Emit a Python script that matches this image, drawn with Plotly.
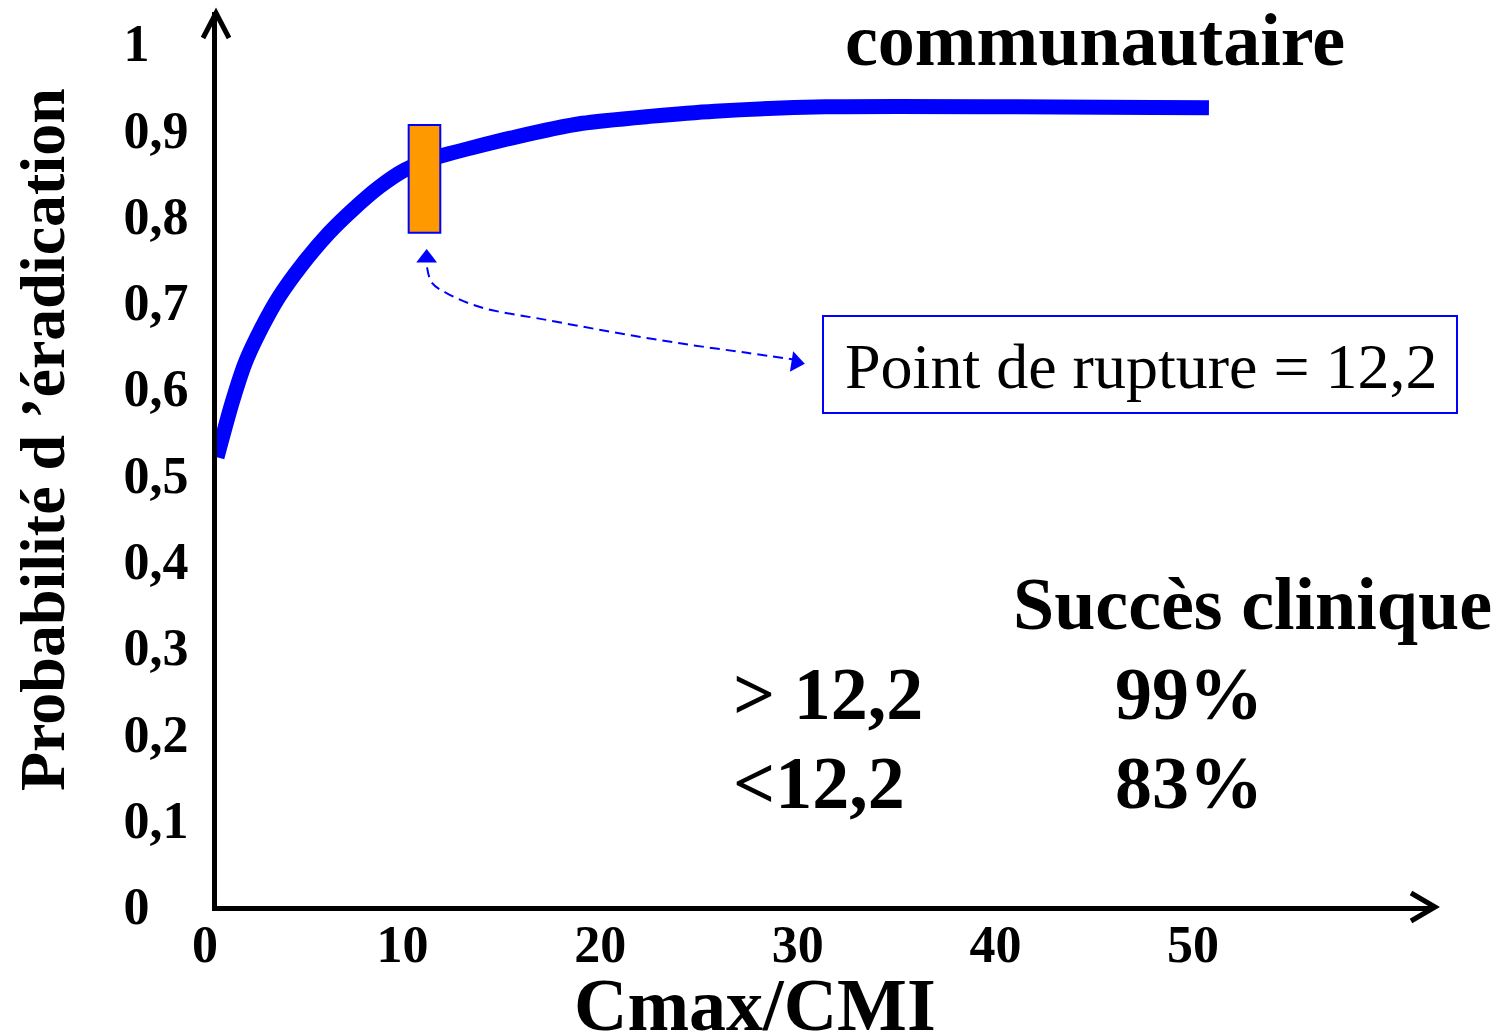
import plotly.graph_objects as go

# ---- data ----
x_ticks = [0, 10, 20, 30, 40, 50]
x_ticktext = ["0", "10", "20", "30", "40", "50"]
y_ticks = [0, 0.1, 0.2, 0.3, 0.4, 0.5, 0.6, 0.7, 0.8, 0.9, 1.0]
y_ticktext = ["0\u00a0\u00a0\u00a0", "0,1", "0,2", "0,3", "0,4", "0,5", "0,6", "0,7", "0,8", "0,9", "1\u00a0\u00a0\u00a0"]

curve_x = [0.0, 0.76, 1.42, 2.28, 3.14, 4.30, 5.67, 6.83, 8.20, 9.51, 11.03, 15.1, 18.5, 21.9, 25.2, 30.8, 50.2]
curve_y = [0.520, 0.583, 0.629, 0.671, 0.706, 0.743, 0.780, 0.806, 0.833, 0.853, 0.867, 0.891, 0.907, 0.915, 0.921, 0.926, 0.925]

breakpoint_x = [9.7, 11.3]
breakpoint_y = [0.78, 0.905]

link_x = [10.63, 10.88, 11.64, 13.31, 16.70, 20.04, 23.43, 26.82, 29.25]
link_y = [0.740, 0.722, 0.710, 0.694, 0.679, 0.665, 0.652, 0.641, 0.633]

table_rows = ["> 12,2", "<12,2"]
table_vals = ["99%", "83%"]

# ---- layout geometry (pixels) ----
W, H = 1501, 1033
L, R, T, B = 217, 1432, 12, 906
XMAX = (R - L) / 19.76
YMAX = (B - T) / 863.0

def pxx(p):
    return (p - L) / (R - L)

def pxy(p):
    return (B - p) / (B - T)

FONT = "Liberation Serif"

fig = go.Figure()

fig.add_trace(go.Scatter(
    x=curve_x, y=curve_y, mode="lines",
    line=dict(color="#0000FF", width=15, shape="spline", smoothing=0.6),
    hoverinfo="skip", showlegend=False))

fig.add_trace(go.Scatter(
    x=link_x, y=link_y, mode="lines",
    line=dict(color="#0000FF", width=2, dash="10px,6px", shape="spline"),
    hoverinfo="skip", showlegend=False))

# arrow heads of the dashed link
fig.add_trace(go.Scatter(
    x=[link_x[0] - 0.02, link_x[-1] + 0.05], y=[link_y[0] + 0.011, link_y[-1] - 0.003], mode="markers",
    marker=dict(symbol=["triangle-up", "triangle-right"], size=18, color="#0000FF",
                angle=[0, 9], line=dict(width=0)),
    cliponaxis=False, hoverinfo="skip", showlegend=False))

shapes = []
# break point rectangle
shapes.append(dict(type="rect", xref="x", yref="y",
                   x0=breakpoint_x[0], x1=breakpoint_x[1], y0=breakpoint_y[0], y1=breakpoint_y[1],
                   fillcolor="#FF9900", line=dict(color="#0000FF", width=2), layer="above"))
# box around "Point de rupture"
shapes.append(dict(type="rect", xref="paper", yref="paper",
                   x0=pxx(823), x1=pxx(1457), y0=pxy(413), y1=pxy(316),
                   fillcolor="white", line=dict(color="#0000FF", width=2), layer="above"))
# axis arrow heads
shapes.append(dict(type="path", xref="paper", yref="paper",
                   path="M {} {} L {} {} L {} {}".format(pxx(203), pxy(38), pxx(216), pxy(13), pxx(229), pxy(38)),
                   line=dict(color="black", width=5)))
shapes.append(dict(type="path", xref="paper", yref="paper",
                   path="M {} {} L {} {} L {} {}".format(pxx(1411), pxy(893), pxx(1435), pxy(907), pxx(1411), pxy(921)),
                   line=dict(color="black", width=5)))

annotations = []
def txt(text, x, y, size, bold=True, xanchor="left", angle=0):
    annotations.append(dict(
        text=text, x=pxx(x), y=pxy(y), xref="paper", yref="paper",
        xanchor=xanchor, yanchor="middle", showarrow=False, textangle=angle,
        font=dict(family=FONT, size=size, color="black", weight="bold" if bold else "normal")))

txt("communautaire", 843, 40, 74)
txt("Succès clinique", 1011, 604, 74)
for i, (r, v) in enumerate(zip(table_rows, table_vals)):
    txt(r, 731, 694 + 89 * i, 74)
    txt(v, 1113, 694 + 89 * i, 74)
txt("Point de rupture = 12,2", 843, 366, 64, bold=False)
txt("Probabilité d ’éradication", 42, 440, 64, xanchor="center", angle=-90)
txt("Cmax/CMI", 755, 1005, 74, xanchor="center")

fig.update_layout(
    width=W, height=H,
    margin=dict(l=L, r=W - R, t=T, b=H - B, pad=0),
    paper_bgcolor="white", plot_bgcolor="white",
    shapes=shapes, annotations=annotations,
    xaxis=dict(range=[0, XMAX], showgrid=False, zeroline=False,
               showline=True, linecolor="black", linewidth=5,
               tickmode="array", tickvals=x_ticks, ticktext=x_ticktext,
               ticks="", ticklabelstandoff=-11, ticklabelshift=-12,
               tickfont=dict(family=FONT, size=52, color="black", weight="bold")),
    yaxis=dict(range=[0, YMAX], showgrid=False, zeroline=False,
               showline=True, linecolor="black", linewidth=5,
               tickmode="array", tickvals=y_ticks, ticktext=y_ticktext,
               ticks="", ticklabelstandoff=13,
               tickfont=dict(family=FONT, size=52, color="black", weight="bold")),
)

fig.write_html("out.html")
